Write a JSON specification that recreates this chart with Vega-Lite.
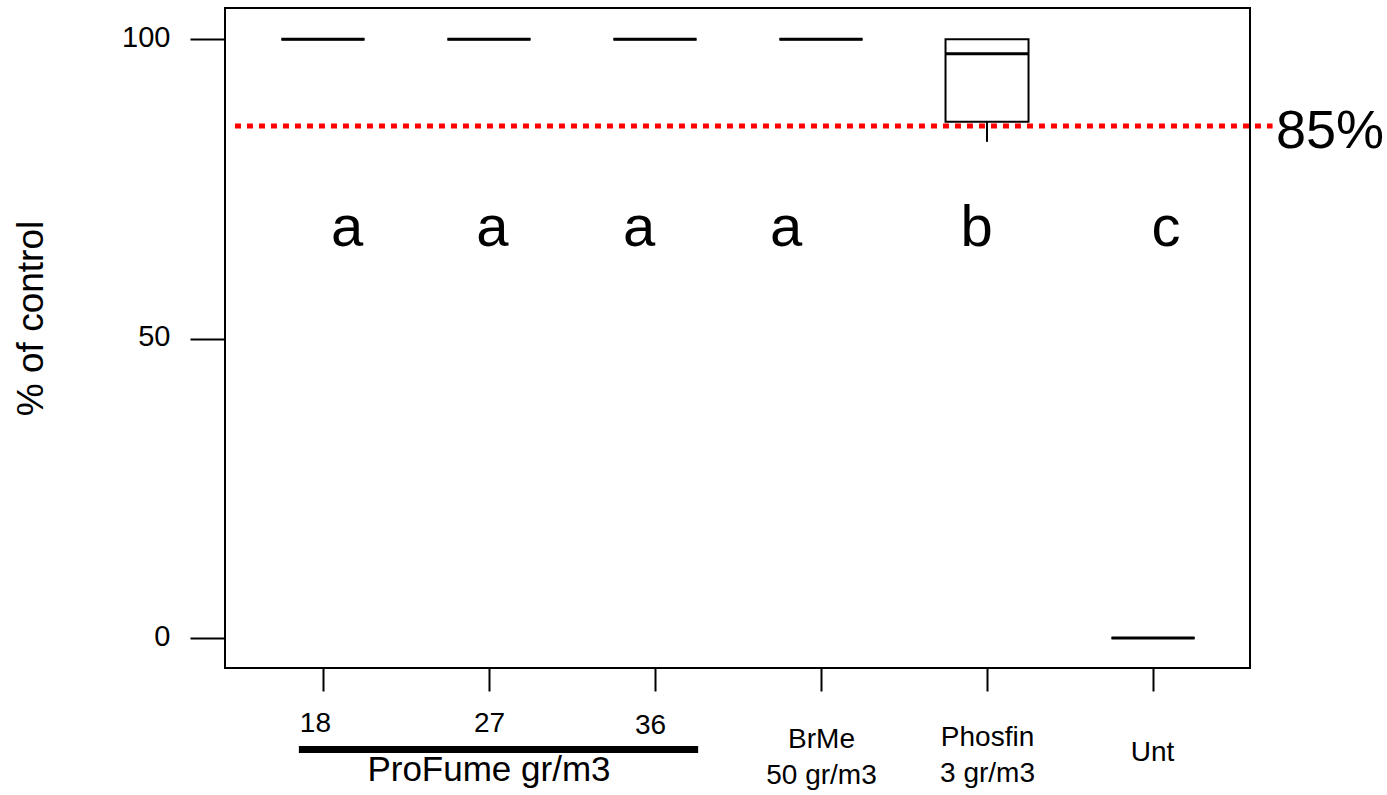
{
  "$schema": "https://vega.github.io/schema/vega-lite/v6.json",
  "autosize": "none",
  "width": 1025,
  "height": 660,
  "padding": {"left": 225, "top": 8, "right": 137, "bottom": 127},
  "background": "white",
  "config": {
    "font": "Liberation Sans",
    "view": {"stroke": "black", "strokeWidth": 2},
    "axis": {"labelColor": "black", "tickColor": "black", "titleColor": "black", "labelFont": "Liberation Sans", "titleFont": "Liberation Sans"}
  },
  "data": {
    "values": [
      {"pos": 1, "treatment": "ProFume 18 gr/m3", "min": 100, "q1": 100, "median": 100, "q3": 100, "max": 100, "letter": "a", "letterPos": 1.145},
      {"pos": 2, "treatment": "ProFume 27 gr/m3", "min": 100, "q1": 100, "median": 100, "q3": 100, "max": 100, "letter": "a", "letterPos": 2.02},
      {"pos": 3, "treatment": "ProFume 36 gr/m3", "min": 100, "q1": 100, "median": 100, "q3": 100, "max": 100, "letter": "a", "letterPos": 2.905},
      {"pos": 4, "treatment": "BrMe 50 gr/m3", "min": 100, "q1": 100, "median": 100, "q3": 100, "max": 100, "letter": "a", "letterPos": 3.79},
      {"pos": 5, "treatment": "Phosfin 3 gr/m3", "min": 82.85, "q1": 86.2, "median": 97.55, "q3": 100, "max": 100, "letter": "b", "letterPos": 4.937},
      {"pos": 6, "treatment": "Unt", "min": 0, "q1": 0, "median": 0, "q3": 0, "max": 0, "letter": "c", "letterPos": 6.078}
    ]
  },
  "layer": [
    {
      "mark": {"type": "bar", "orient": "vertical", "size": 83, "fill": "white", "stroke": "black", "strokeWidth": 2},
      "encoding": {
        "x": {
          "field": "pos", "type": "quantitative",
          "scale": {"domain": [0.41, 6.584], "nice": false, "zero": false, "padding": 0},
          "axis": {
            "values": [1, 2, 3, 4, 5, 6],
            "title": null,
            "domain": false,
            "grid": false,
            "tickSize": 23,
            "tickWidth": 2,
            "labelFontSize": 28,
            "labelBaseline": "top",
            "labelLineHeight": 36,
            "labelFlush": false,
            "labelOverlap": false,
            "labelBound": false,
            "labelExpr": "datum.value == 1 ? '18' : datum.value == 2 ? '27' : datum.value == 3 ? '36' : datum.value == 4 ? ['BrMe', '50 gr/m3'] : datum.value == 5 ? ['Phosfin', '3 gr/m3'] : 'Unt'",
            "labelPadding": {"condition": [{"test": "datum.value == 3", "value": 20}, {"test": "datum.value == 4", "value": 34}, {"test": "datum.value == 5", "value": 32}, {"test": "datum.value == 6", "value": 47}], "value": 18},
            "labelOffset": {"condition": [{"test": "datum.value == 1", "value": -8}, {"test": "datum.value == 3", "value": -5}, {"test": "datum.value == 6", "value": -1}], "value": 0}
          }
        },
        "y": {
          "field": "q3", "type": "quantitative",
          "scale": {"domain": [-5, 105.2], "nice": false, "zero": false, "padding": 0},
          "axis": {
            "values": [0, 50, 100],
            "domain": false,
            "grid": false,
            "tickSize": 35,
            "tickWidth": 2,
            "labelFontSize": 29,
            "labelPadding": 20,
            "labelOffset": -2,
            "title": "% of control",
            "titleFontSize": 37,
            "titleFontWeight": "normal",
            "titleAngle": 270,
            "titleBaseline": "alphabetic",
            "titleAlign": "center",
            "titleX": -183,
            "titleY": 310
          }
        },
        "y2": {"field": "q1"}
      }
    },
    {
      "transform": [{"filter": "datum.min < datum.q1"}],
      "mark": {"type": "rule", "color": "black", "strokeWidth": 2},
      "encoding": {
        "x": {"field": "pos", "type": "quantitative"},
        "y": {"field": "q1", "type": "quantitative"},
        "y2": {"field": "min"}
      }
    },
    {
      "mark": {"type": "tick", "orient": "horizontal", "size": 83, "thickness": 3, "color": "black", "opacity": 1},
      "encoding": {
        "x": {"field": "pos", "type": "quantitative"},
        "y": {"field": "median", "type": "quantitative"}
      }
    },
    {
      "mark": {"type": "text", "font": "Liberation Sans", "fontSize": 58, "baseline": "alphabetic", "align": "center", "color": "black"},
      "encoding": {
        "x": {"field": "letterPos", "type": "quantitative"},
        "y": {"datum": 65.4, "type": "quantitative"},
        "text": {"field": "letter"}
      }
    },
    {
      "data": {"values": [{"threshold": 85.5, "label": "85%"}]},
      "mark": {"type": "rule", "color": "#FF0000", "strokeWidth": 5, "strokeDash": [6, 6]},
      "encoding": {
        "x": {"datum": 0.47, "type": "quantitative"},
        "x2": {"datum": 6.72},
        "y": {"field": "threshold", "type": "quantitative"}
      }
    },
    {
      "data": {"values": [{"threshold": 85.5, "label": "85%"}]},
      "mark": {"type": "text", "font": "Liberation Sans", "fontSize": 54, "baseline": "alphabetic", "align": "center", "dy": 22, "color": "black"},
      "encoding": {
        "x": {"datum": 7.066, "type": "quantitative"},
        "y": {"field": "threshold", "type": "quantitative"},
        "text": {"field": "label"}
      }
    },
    {
      "data": {"values": [{"group": "ProFume gr/m3"}]},
      "mark": {"type": "rule", "color": "black", "strokeWidth": 7},
      "encoding": {
        "x": {"datum": 0.855, "type": "quantitative"},
        "x2": {"datum": 3.26},
        "y": {"datum": -18.6, "type": "quantitative"}
      }
    },
    {
      "data": {"values": [{"group": "ProFume gr/m3"}]},
      "mark": {"type": "text", "fontSize": 35, "baseline": "alphabetic", "align": "center", "color": "black"},
      "encoding": {
        "x": {"datum": 2.0, "type": "quantitative"},
        "y": {"datum": -23.8, "type": "quantitative"},
        "text": {"field": "group"}
      }
    }
  ]
}
